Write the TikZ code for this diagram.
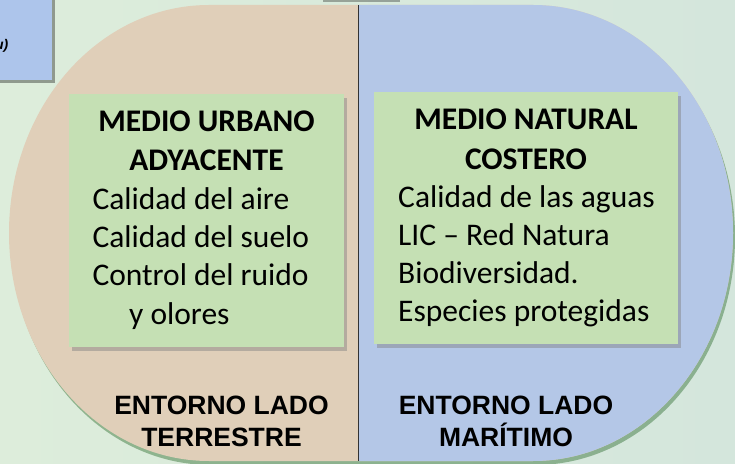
\documentclass[tikz,border=0pt]{standalone}
\usepackage{fontspec}
\setmainfont{Carlito}
\newfontfamily\arialfont{Liberation Sans}
\usetikzlibrary{shadows}

\definecolor{fondo}{HTML}{DDEDDB}
\definecolor{fondoB}{HTML}{D4E6DC}
\definecolor{tierra}{HTML}{E0CFB9}
\definecolor{mar}{HTML}{B4C7E7}
\definecolor{caja}{HTML}{C5E0B4}
\definecolor{azulcaja}{HTML}{ADC5EB}

% outline of the two halves (rounded ends)
\newcommand{\contorno}{(209,458) -- (533,458)
  arc[start angle=90, end angle=-90, x radius=200, y radius=228]
  -- (209,2)
  arc[start angle=270, end angle=90, x radius=200, y radius=228] -- cycle}

\tikzset{
  cajaverde/.style={fill=caja, inner sep=0pt,
    drop shadow={shadow xshift=3pt, shadow yshift=-4pt, opacity=0.45}},
  titulo/.style={font=\bfseries\fontsize{31.5}{38}\selectfont, anchor=base},
  item/.style={font=\fontsize{31.5}{38}\selectfont, anchor=base west},
  entorno/.style={font=\arialfont\bfseries\fontsize{26.5}{32}\selectfont, anchor=base},
}

\begin{document}
\begin{tikzpicture}[x=1pt, y=1pt]
    \useasboundingbox (0,0) rectangle (735,463);
    % Background
    \shade[left color=fondo, right color=fondoB] (0,0) rectangle (735,463);

    % Boxes cut by the page edge
    \fill[black, opacity=0.35] (0,380) rectangle (55,463);
    \fill[azulcaja] (0,383) rectangle (52,463);
    \node[font=\arialfont\bfseries\itshape\fontsize{14}{16}\selectfont, anchor=base east, inner sep=0pt] (nota) at (8.5,413) {u)};
    \fill[black, opacity=0.3] (323,460.5) rectangle (400,463);

    % Land side and sea side
    \fill[tierra, drop shadow={shadow xshift=2pt, shadow yshift=-4pt, opacity=0.35, fill=black!70!green}] \contorno;
    \begin{scope}
        \clip \contorno;
        \fill[mar] (358.7,0) rectangle (735,463);
    \end{scope}
    \coordinate (arriba) at (358.7,458);
    \coordinate (abajo) at (358.7,2);
    \draw[black!80, line width=0.8pt] (arriba) -- (abajo);

    % Urban environment
    \node[cajaverde, minimum width=275pt, minimum height=253pt] (urbano) at (206.5,242.5) {};
    \node[titulo] (urbT1) at (206.5,331) {MEDIO URBANO};
    \node[titulo] (urbT2) at (206.5,292) {ADYACENTE};
    \foreach \texto [count=\i from 0] in {Calidad del aire, Calidad del suelo, Control del ruido}
        \node[item] (urb\i) at (89,253-38*\i) {\texto};
    \node[item] (urb3) at (125.6,139) {y olores};

    % Coastal natural environment
    \node[cajaverde, minimum width=304pt, minimum height=252pt] (natural) at (526,245) {};
    \node[titulo] (natT1) at (526,333) {MEDIO NATURAL};
    \node[titulo] (natT2) at (526,293) {COSTERO};
    \foreach \texto [count=\i from 0] in {Calidad de las aguas, LIC -- Red Natura, Biodiversidad., Especies protegidas}
        \node[item] (nat\i) at (394.7,255-38*\i) {\texto};

    % Side labels
    \node[entorno] (terr1) at (221.5,49) {ENTORNO LADO};
    \node[entorno] (terr2) at (221.5,17) {TERRESTRE};
    \node[entorno] (mar1) at (506,49) {ENTORNO LADO};
    \node[entorno] (mar2) at (506,17) {MARÍTIMO};
\end{tikzpicture}
\end{document}
